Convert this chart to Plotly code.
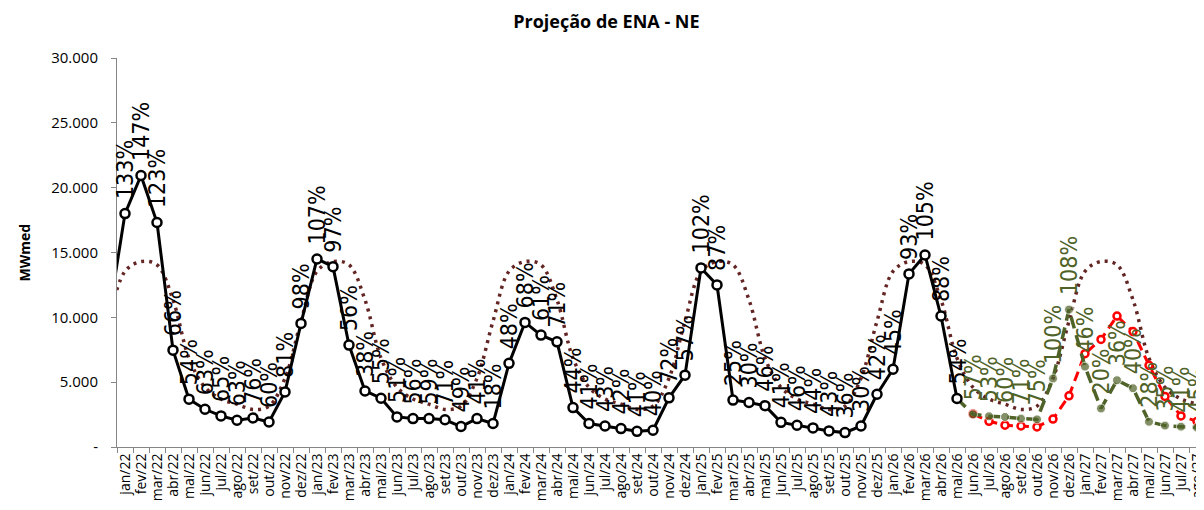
import plotly.graph_objects as go

# categories
months = ['jan', 'fev', 'mar', 'abr', 'mai', 'jun', 'jul', 'ago', 'set', 'out', 'nov', 'dez']
years = ['22', '23', '24', '25', '26', '27']
tick_labels = [m + '/' + y for y in years for m in months][:68]

# verified ENA (MWmed), dez/21 .. mai/26  (x = -1 .. 52)
ena_x = list(range(-1, 53))
ena = [10200,
       18000, 20940, 17310, 7470, 3690, 2910, 2400, 2060, 2240, 1930, 4250, 9530,
       14500, 13910, 7860, 4320, 3760, 2320, 2190, 2190, 2100, 1580, 2190, 1810,
       6450, 9610, 8630, 8110, 3040, 1810, 1620, 1420, 1210, 1290, 3790, 5540,
       13810, 12500, 3620, 3430, 3190, 1900, 1680, 1470, 1240, 1110, 1620, 4070,
       6000, 13350, 14810, 10100, 3740]
ena_pct = [None,
           133, 147, 123, 66, 54, 63, 65, 63, 76, 60, 81, 98,
           107, 97, 56, 38, 55, 51, 56, 59, 71, 49, 41, 18,
           48, 68, 61, 71, 44, 41, 43, 42, 41, 40, 72, 57,
           102, 87, 25, 30, 46, 41, 46, 44, 43, 36, 30, 42,
           45, 93, 105, 88, 54]

# MLT (MWmed), dez/21 .. set/27  (x = -1 .. 68)
mlt_x = list(range(-1, 69))
mlt = [9700,
       13550, 14300, 14050, 11350, 6850, 4600, 3700, 3300, 2900, 3150, 5300, 9700,
       13550, 14300, 14050, 11350, 6850, 4600, 3700, 3300, 2900, 3150, 5300, 9700,
       13550, 14300, 14050, 11350, 6850, 4600, 3700, 3300, 2900, 3150, 5300, 9700,
       13550, 14300, 14050, 11350, 6850, 4600, 3700, 3300, 2900, 3150, 5300, 9700,
       13550, 14300, 14050, 11350, 6850, 4600, 3700, 3300, 2900, 3150, 5300, 9700,
       13550, 14300, 14050, 11350, 6850, 4600, 3700, 3300, 2900]

# forecast (green), mai/26 .. ago/27  (x = 52 .. 67)
prev_x = list(range(52, 68))
prev = [3740, 2520, 2370, 2320, 2190, 2130, 5280, 10600, 6200, 2970, 5150, 4530, 1950, 1650, 1570, 1500]
prev_pct = [None, 57, 53, 60, 71, 75, 100, 108, 46, 20, 36, 40, 28, 35, 41, 45]

# second scenario (red), jun/26 .. ago/27  (x = 53 .. 67)
cen_x = list(range(53, 68))
cen = [2550, 1980, 1680, 1620, 1550, 2150, 3950, 7200, 8300, 10100, 8900, 6300, 3900, 2400, 1980]

y_ticks = [0, 5000, 10000, 15000, 20000, 25000, 30000]
y_tick_text = ['-', '5.000', '10.000', '15.000', '20.000', '25.000', '30.000']

BLACK = '#000000'
GREEN = '#4F6228'
RED = '#FF0000'
MLT_COLOR = '#632523'
LABEL_FONT = 'Liberation Sans Narrow, DejaVu Sans Condensed, Open Sans, sans-serif'

fig = go.Figure()

fig.add_trace(go.Scatter(x=mlt_x, y=mlt, mode='lines', line_shape='spline',
                         line=dict(color=MLT_COLOR, width=3.5, dash='3px,5px'),
                         name='MLT', showlegend=False))

fig.add_trace(go.Scatter(x=cen_x, y=cen, mode='lines+markers',
                         line=dict(color=RED, width=3, dash='10px,6px'),
                         marker=dict(symbol='circle', size=7, color='white',
                                     line=dict(color=RED, width=2.5)),
                         showlegend=False))

# no marker on the first point, it sits under the last verified value
green_sizes = [0] + [9] * (len(prev_x) - 1)
fig.add_trace(go.Scatter(x=prev_x, y=prev, mode='lines+markers',
                         line=dict(color=GREEN, width=3.5, dash='12px,7px'),
                         marker=dict(symbol='circle', size=green_sizes, color=GREEN),
                         showlegend=False))

fig.add_trace(go.Scatter(x=ena_x, y=ena, mode='lines+markers',
                         line=dict(color=BLACK, width=3),
                         marker=dict(symbol='circle', size=9, color='white',
                                     line=dict(color=BLACK, width=2.5)),
                         showlegend=False))

annotations = []
for x, v, p in zip(ena_x, ena, ena_pct):
    if p is None:
        continue
    annotations.append(dict(x=x, y=v, text=f'{p}%', showarrow=False, textangle=-90,
                            xanchor='center', yanchor='bottom', yshift=12,
                            font=dict(family=LABEL_FONT, size=23, color=BLACK)))
for x, v, p in zip(prev_x, prev, prev_pct):
    if p is None:
        continue
    annotations.append(dict(x=x, y=v, text=f'{p}%', showarrow=False, textangle=-90,
                            xanchor='center', yanchor='bottom', yshift=12,
                            font=dict(family=LABEL_FONT, size=23, color=GREEN)))

annotations.append(dict(xref='paper', yref='paper', x=-0.0846, y=0.5, text='<b>MWmed</b>',
                        textangle=-90, showarrow=False, xanchor='center', yanchor='middle',
                        font=dict(family='Open Sans', size=14, color='#000000')))

# the page body has an 8px margin, margins below make up for it
fig.update_layout(
    width=1204, height=510,
    margin=dict(l=109, r=7, t=50, b=71),
    plot_bgcolor='white', paper_bgcolor='white',
    title=dict(text='<b>Projeção de ENA - NE</b>', x=0.497, xanchor='center',
               y=0.9725, yanchor='middle',
               font=dict(family='Open Sans', size=18, color='#000000')),
    annotations=annotations,
    showlegend=False,
)

fig.update_xaxes(range=[-0.5, 67.5], tickmode='array', tickvals=list(range(68)),
                 ticktext=tick_labels, tickangle=-90, ticks='',
                 ticklabeloverflow='allow',
                 tickfont=dict(family='Open Sans', size=14, color='#000000'),
                 showline=True, linecolor='#868686', linewidth=1, showgrid=False,
                 zeroline=False,
                 minor=dict(ticks='outside', tick0=-0.5, dtick=1, ticklen=5,
                            tickcolor='#868686', showgrid=False))

fig.update_yaxes(range=[0, 30000], tickmode='array', tickvals=y_ticks, ticktext=y_tick_text,
                 ticks='outside', ticklen=5, tickcolor='#868686',
                 tickfont=dict(family='Open Sans', size=15, color='#000000'),
                 ticklabelstandoff=10,
                 showline=True, linecolor='#868686', linewidth=1, showgrid=False,
                 zeroline=False)

fig.write_html('out.html')
